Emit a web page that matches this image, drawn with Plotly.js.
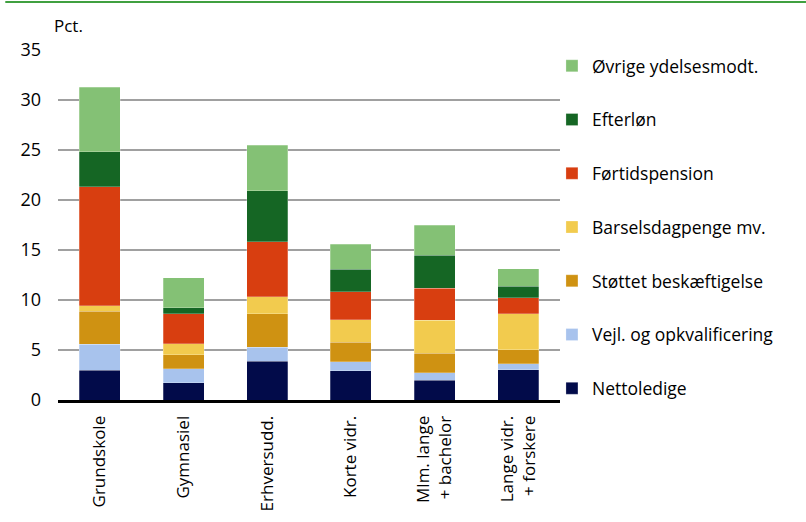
<!DOCTYPE html>
<html>
<head>
<meta charset="utf-8">
<script src="https://cdn.plot.ly/plotly-3.0.1.min.js"></script>
<style>html,body{margin:0;padding:0;background:#fff;}#chart{width:806px;height:522px;}</style>
</head>
<body>
<div id="chart"></div>
<script>
const categories = ["Grundskole", "Gymnasiel", "Erhversudd.", "Korte vidr.", "Mlm. lange<br>+ bachelor", "Lange vidr.<br>+ forskere"];
const nettoledige   = [3.0, 1.74, 3.87, 2.91, 1.97, 3.04];
const vejl          = [2.6, 1.40, 1.41, 0.93, 0.77, 0.60];
const stottet       = [3.3, 1.37, 3.37, 1.94, 1.94, 1.40];
const barsel        = [0.55, 1.13, 1.67, 2.24, 3.30, 3.61];
const fortid        = [11.9, 2.98, 5.51, 2.80, 3.18, 1.57];
const efterlon      = [3.5, 0.63, 5.08, 2.24, 3.30, 1.17];
const ovrige        = [6.45, 2.97, 4.57, 2.54, 3.01, 1.74];

const seriesNames = ["Nettoledige", "Vejl. og opkvalificering", "Støttet beskæftigelse", "Barselsdagpenge mv.", "Førtidspension", "Efterløn", "Øvrige ydelsesmodt."];
const seriesValues = [nettoledige, vejl, stottet, barsel, fortid, efterlon, ovrige];
const seriesColors = ["#020b4a", "#a8c3ed", "#cf9212", "#f2cb4e", "#d83e10", "#156624", "#84c175"];

const FONT = "Open Sans, sans-serif";

const traces = seriesNames.map((n, i) => ({
  type: "bar",
  name: n,
  x: categories,
  y: seriesValues[i],
  legendgroup: "g" + i,
  legendrank: 100 - i,
  marker: {color: seriesColors[i], line: {color: "rgba(255,255,255,0.5)", width: 0.5}},
  hoverinfo: "name+y"
}));

const layout = {
  width: 806, height: 522,
  margin: {l: 58, r: 246, t: 50, b: 122},
  barmode: "stack",
  bargap: 0.51,
  paper_bgcolor: "#fff",
  plot_bgcolor: "#fff",
  font: {family: FONT, size: 17, color: "#000"},
  showlegend: true,
  legend: {
    x: 0.984, xanchor: "left", y: 1.006, yanchor: "top",
    traceorder: "grouped",
    tracegroupgap: 28,
    maxheight: 500,
    font: {family: FONT, size: 17.5, color: "#000"},
    bgcolor: "rgba(0,0,0,0)"
  },
  xaxis: {
    type: "category",
    tickangle: -90,
    showline: true, linecolor: "#000", linewidth: 3,
    ticks: "", showgrid: false,
    tickfont: {family: FONT, size: 17, color: "#000"},
    ticklabelstandoff: 6
  },
  yaxis: {
    range: [0, 35],
    dtick: 5,
    showgrid: true, gridcolor: "#a0a0a0", gridwidth: 2,
    zeroline: false, showline: false, ticks: "",
    tickfont: {family: FONT, size: 18, color: "#000"},
    ticklabelstandoff: 16
  },
  annotations: [{
    text: "Pct.", xref: "paper", yref: "paper",
    x: -0.012, y: 1.071, xanchor: "left", yanchor: "middle",
    showarrow: false, font: {family: FONT, size: 17, color: "#000"}
  }],
  shapes: [{
    type: "line", xref: "paper", yref: "paper",
    x0: -0.105, x1: 1.49, y0: 1.137, y1: 1.137,
    line: {color: "#008000", width: 1.5}
  }]
};

Plotly.newPlot("chart", traces, layout, {displayModeBar: false, staticPlot: true});
</script>
</body>
</html>
